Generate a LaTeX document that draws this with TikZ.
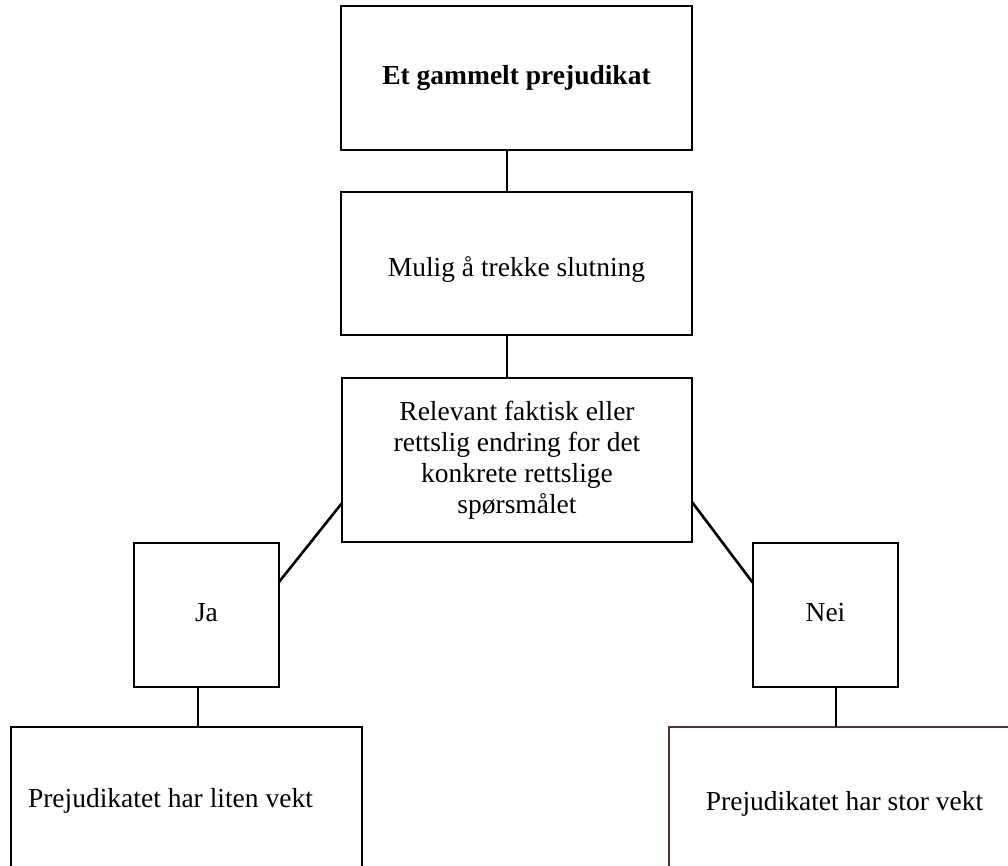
\documentclass[tikz,border=0pt]{standalone}
\usepackage{fontspec}
\setmainfont{Liberation Serif}
\definecolor{brownline}{RGB}{75,55,45}
\begin{document}
\begin{tikzpicture}[x=1pt,y=-1pt,
  box/.style={draw=black, line width=2.6pt, rectangle, inner sep=0pt, outer sep=0pt,
    font=\fontsize{27.5}{31}\selectfont, align=center},
  oneline/.style={text height=18.8pt, text depth=6pt},
  link/.style={draw=black, line width=2.6pt}]
\useasboundingbox (0,0) rectangle (1008,865);
\clip (0,0) rectangle (1008,865);
\fill[white] (0,0) rectangle (1008,865);

\node[box, oneline, minimum width=351pt, minimum height=144pt] (top) at (516.5,78) {\textbf{Et gammelt prejudikat}};
\node[box, text height=25pt, text depth=0pt, minimum width=351pt, minimum height=143pt] (mid) at (516.5,263.5) {Mulig å trekke slutning};
\node[box, minimum width=350pt, minimum height=164pt] (rel) at (517,460) {Relevant faktisk eller\\rettslig endring for det\\konkrete rettslige\\spørsmålet};
\node[box, oneline, minimum width=145pt, minimum height=144pt] (ja) at (206.5,615) {Ja};
\node[box, oneline, minimum width=145pt, minimum height=144pt] (nei) at (825.5,615) {Nei};
\node[box, oneline, minimum width=351pt, minimum height=147pt] (liten) at (186.5,800.6) {\makebox[317pt][l]{Prejudikatet har liten vekt}};
\node[box, oneline, draw=brownline, minimum width=351pt, minimum height=153pt] (stor) at (844.5,803.6) {Prejudikatet har stor vekt};

\draw[link] ([xshift=-9.5pt]top.south) -- ([xshift=-9.5pt]mid.north);
\draw[link] ([xshift=-9.5pt]mid.south) -- ([xshift=-10pt]rel.north);
\draw[link] ([yshift=-43pt]rel.west) -- ([yshift=33pt]ja.east);
\draw[link] ([yshift=-42pt]rel.east) -- ([yshift=32pt]nei.west);
\draw[link] ([xshift=-8.5pt]ja.south) -- ([xshift=11.5pt]liten.north);
\draw[link] ([xshift=10.5pt]nei.south) -- ([xshift=-8.5pt]stor.north);
\end{tikzpicture}
\end{document}
